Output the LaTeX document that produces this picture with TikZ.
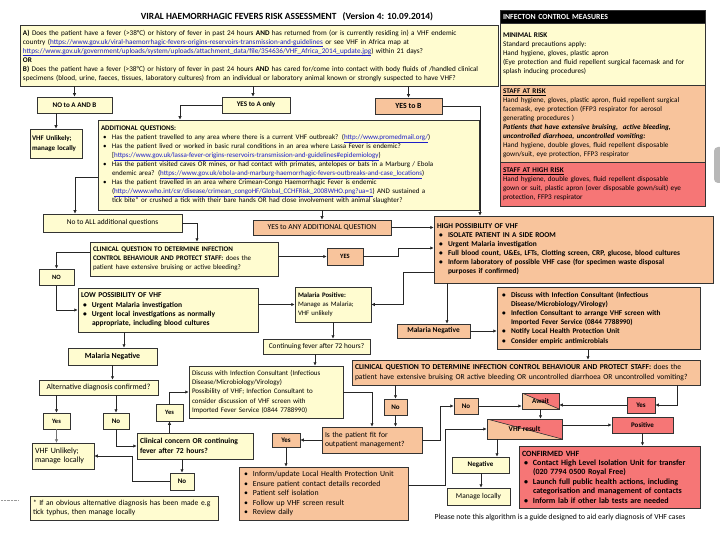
\documentclass[tikz,border=0pt]{standalone}
\usepackage{fontspec}
\setmainfont{Carlito}
\usepackage{tikz}
\usetikzlibrary{arrows.meta,calc}
\definecolor{vyel}{RGB}{255,252,208}
\definecolor{vpch}{RGB}{248,196,156}
\definecolor{vred}{RGB}{246,118,118}
\definecolor{lnkblue}{RGB}{30,30,200}
\newcommand{\fs}{\fontsize{6.5}{9}\selectfont}
\newcommand{\fsz}[2]{\fontsize{#1}{#2}\selectfont}
\newcommand{\lnk}[1]{\textcolor{lnkblue}{\underline{#1}}}
\newcommand{\bul}{\hspace*{2pt}\makebox[9pt][l]{\textbullet}}
\newcommand{\ind}{\hspace*{11pt}}
\tikzset{
  box/.style={draw=black!80,line width=0.5pt,inner xsep=3pt,inner ysep=1pt,font=\fs},
  ybox/.style={box,fill=vyel},
  obox/.style={box,fill=vpch},
  rbox/.style={box,fill=vred},
  sz/.style 2 args={minimum width=#1pt,minimum height=#2pt},
  tw/.style={text width=#1pt,align=left},
  flow/.style={-{Latex[length=3.5pt,width=3.5pt]},line width=0.7pt,black!85},
  split/.style={path picture={
    \fill[vred] (path picture bounding box.north west) -- (path picture bounding box.north east)
      -- (path picture bounding box.south east) -- cycle;
    \draw[line width=0.6pt] (path picture bounding box.north west) -- (path picture bounding box.south east);}},
}
\begin{document}
\begin{tikzpicture}[x=1pt,y=-1pt]
  \fill[white] (0,0) rectangle (720,540);
  \useasboundingbox (0,0) rectangle (720,540);

  % ---- title and entry question ----
  \node[font=\fsz{9.4}{11}\bfseries] (title) at (287,17)
    {VIRAL HAEMORRHAGIC FEVERS RISK ASSESSMENT\hspace{4pt} (Version 4: 10.09.2014)};
  \node[ybox,sz={478}{61},tw=472,font=\fsz{7.2}{9}] (abq) at (259,55.5) {%
    \textbf{A)} Does the patient have a fever (>38°C) or history of fever in past 24 hours \textbf{AND} has returned from (or is currently residing in) a VHF endemic\\
    country (\lnk{https://www.gov.uk/viral-haemorrhagic-fevers-origins-reservoirs-transmission-and-guidelines} or see VHF in Africa map at\\
    \lnk{https://www.gov.uk/government/uploads/system/uploads/attachment\_data/file/354636/VHF\_Africa\_2014\_update.jpg}) within 21 days?\\
    \textbf{OR}\\
    \textbf{B)} Does the patient have a fever (>38°C) or history of fever in past 24 hours \textbf{AND} has cared for/come into contact with body fluids of /handled clinical\\
    specimens (blood, urine, faeces, tissues, laboratory cultures) from an individual or laboratory animal known or strongly suspected to have VHF?};

  \node[ybox,sz={75}{16},font=\fsz{7.1}{9}\bfseries] (noab) at (74.5,105) {NO to A AND B};
  \node[ybox,sz={68}{16},font=\fsz{7.1}{9}\bfseries] (yesa) at (256,105) {YES to A only};
  \node[obox,sz={67}{16},font=\fsz{7.8}{9}\bfseries] (yesb) at (408.5,106) {YES to B};
  \node[ybox,sz={52}{29},inner xsep=2pt,tw=48,font=\fsz{7}{9.5}\bfseries] (vhfu1) at (56,143.5) {VHF Unlikely;\\manage locally};

  \node[ybox,sz={381}{90},tw=375,font=\fsz{7}{9}] (addq) at (288.5,165) {%
    \textbf{ADDITIONAL QUESTIONS:}\\
    \bul Has the patient travelled to any area where there is a current VHF outbreak? (\lnk{http://www.promedmail.org/})\\
    \bul Has the patient lived or worked in basic rural conditions in an area where Lassa Fever is endemic?\\
    \ind [\lnk{https://www.gov.uk/lassa-fever-origins-reservoirs-transmission-and-guidelines\#epidemiology})\\
    \bul Has the patient visited caves OR mines, or had contact with primates, antelopes or bats in a Marburg / Ebola\\
    \ind endemic area? (\lnk{https://www.gov.uk/ebola-and-marburg-haemorrhagic-fevers-outbreaks-and-case\_locations})\\
    \bul Has the patient travelled in an area where Crimean-Congo Haemorrhagic Fever is endemic\\
    \ind (\lnk{http://www.who.int/csr/disease/crimean\_congoHF/Global\_CCHFRisk\_2008WHO.png?ua=1}) AND sustained a\\
    \ind tick bite* or crushed a tick with their bare hands OR had close involvement with animal slaughter?};

  \node[ybox,sz={139}{18},font=\fsz{7.4}{9}] (noall) at (112.5,223) {No to ALL additional questions};
  \node[obox,sz={138}{15},font=\fsz{7.6}{9}] (yesany) at (322,227.5) {YES to ANY ADDITIONAL QUESTION};
  \node[ybox,sz={188}{34},tw=182,font=\fsz{7}{9}] (clinq1) at (184,259) {%
    \textbf{CLINICAL QUESTION TO DETERMINE INFECTION}\\
    \textbf{CONTROL BEHAVIOUR AND PROTECT STAFF:} does the\\
    patient have extensive bruising or active bleeding?};
  \node[ybox,sz={35}{16},font=\fs\bfseries] (no1) at (56.5,277) {NO};
  \node[obox,sz={36}{17},font=\fs\bfseries] (yes1) at (345,256.5) {YES};
  \node[obox,sz={279}{67},tw=273,font=\fsz{7.4}{9}\bfseries] (high) at (573.5,249.5) {%
    HIGH POSSIBILITY OF VHF\\
    \bul ISOLATE PATIENT IN A SIDE ROOM\\
    \bul Urgent Malaria investigation\\
    \bul Full blood count, U\&Es, LFTs, Clotting screen, CRP, glucose, blood cultures\\
    \bul Inform laboratory of possible VHF case (for specimen waste disposal\\
    \ind purposes if confirmed)};

  % ---- infection control panel ----
  \node[box,fill=black,text=white,sz={205}{13},tw=199,font=\fsz{7.8}{9}\bfseries] (icmh) at (602.5,16.5) {INFECTON CONTROL MEASURES};
  \node[ybox,sz={205}{62},tw=199,font=\fsz{7.2}{9}] (icmmin) at (602.5,54) {%
    \textbf{MINIMAL RISK}\\
    Standard precautions apply:\\
    Hand hygiene, gloves, plastic apron\\
    (Eye protection and fluid repellent surgical facemask and for\\
    splash inducing procedures)};
  \node[obox,sz={205}{77},tw=199,font=\fsz{7.2}{9}] (icmrisk) at (602.5,123.5) {%
    \underline{\textbf{STAFF AT RISK}}\\
    Hand hygiene, gloves, plastic apron, fluid repellent surgical\\
    facemask, eye protection (FFP3 respirator for aerosol\\
    generating procedures )\\
    \textbf{\textit{Patients that have extensive bruising,\ \ active bleeding,}}\\
    \textbf{\textit{uncontrolled diarrhoea, uncontrolled vomiting:}}\\
    Hand hygiene, double gloves, fluid repellent disposable\\
    gown/suit, eye protection, FFP3 respirator};
  \node[rbox,sz={205}{44},tw=199,font=\fsz{7.2}{9}] (icmhigh) at (602.5,184) {%
    \underline{\textbf{STAFF AT HIGH RISK}}\\
    Hand hygiene, double gloves, fluid repellent disposable\\
    gown or suit, plastic apron (over disposable gown/suit) eye\\
    protection, FFP3 respirator};
  \fill[black!28,rounded corners=4pt] (714,147) rectangle (726,183);

  % ---- malaria branches ----
  \node[ybox,sz={180}{44},tw=174,font=\fsz{7.5}{9.3}\bfseries] (lowp) at (168,310) {%
    LOW POSSIBILITY OF VHF\\
    \bul Urgent Malaria investigation\\
    \bul Urgent local investigations as normally\\
    \ind appropriate, including blood cultures};
  \node[ybox,sz={76}{35},tw=70,font=\fsz{6.8}{9}] (malpos) at (333,304.5) {\textbf{Malaria Positive:}\\Manage as Malaria;\\VHF unlikely};
  \node[ybox,sz={89}{17},font=\fsz{7.8}{9}\bfseries] (malneg1) at (112.5,356.5) {Malaria Negative};
  \node[obox,sz={73}{14},font=\fsz{7.4}{9}\bfseries] (malneg2) at (433.5,331) {Malaria Negative};
  \node[obox,sz={203}{62},tw=197,font=\fsz{7.3}{9.2}\bfseries] (disbul) at (598.5,318) {%
    \bul Discuss with Infection Consultant (Infectious\\
    \ind Disease/Microbiology/Virology)\\
    \bul Infection Consultant to arrange VHF screen with\\
    \ind Imported Fever Service (0844 7788990)\\
    \bul Notify Local Health Protection Unit\\
    \bul Consider empiric antimicrobials};
  \node[ybox,sz={107}{15},font=\fsz{7.3}{9}] (contf) at (316.5,346.5) {Continuing fever after 72 hours?};
  \node[ybox,sz={119}{15},font=\fsz{7.8}{9}] (altd) at (98.5,387.5) {Alternative diagnosis confirmed?};
  \node[ybox,sz={154}{52},tw=148,font=\fsz{7}{9.2}] (disc) at (266,392) {%
    Discuss with Infection Consultant (Infectious\\
    Disease/Microbiology/Virology)\\
    Possibility of VHF; Infection Consultant to\\
    consider discussion of VHF screen with\\
    Imported Fever Service (0844 7788990)};
  \node[obox,sz={348}{25},tw=342,font=\fsz{7.6}{9.5}] (clinq2) at (526,372.5) {%
    \textbf{CLINICAL QUESTION TO DETERMINE INFECTION CONTROL BEHAVIOUR AND PROTECT STAFF:} does the\\
    patient have extensive bruising OR active bleeding OR uncontrolled diarrhoea OR uncontrolled vomiting?};

  % ---- lower left ----
  \node[ybox,sz={27}{16},font=\fs\bfseries] (yes2) at (56.5,421) {Yes};
  \node[ybox,sz={26}{16},font=\fsz{7}{9}\bfseries] (no2) at (116,421) {No};
  \node[ybox,sz={62}{26},tw=56,font=\fsz{8}{9.5}] (vhfu2) at (63,456) {VHF Unlikely;\\manage locally};
  \node[ybox,sz={116}{26},tw=110,font=\fsz{7.6}{9.5}\bfseries] (clinc) at (195,446) {Clinical concern OR continuing\\fever after 72 hours?};
  \node[ybox,sz={27}{17},font=\fs\bfseries] (yes3) at (169.5,412.5) {Yes};
  \node[ybox,sz={24}{17},font=\fsz{7}{9}\bfseries] (no3) at (182,481.5) {No};
  \node[ybox,sz={188}{24},tw=182,font=\fsz{7.6}{9.5}] (foot) at (124,508) {%
    * If an obvious alternative diagnosis has been made e.g\\
    tick typhus, then manage locally};
  \draw[black!40,densely dotted] (1,500) -- (19,500);

  % ---- lower right ----
  \node[obox,sz={100}{26},tw=94,font=\fsz{7.6}{9.5}] (fit) at (372,440) {Is the patient fit for\\outpatient management?};
  \node[obox,sz={23}{16},font=\fsz{7}{9}\bfseries] (no4) at (395.5,407) {No};
  \node[obox,sz={24}{16},font=\fsz{7}{9}\bfseries] (no5) at (466,406) {No};
  \node[obox,split,sz={37}{16},font=\fsz{7}{9}\bfseries] (await) at (540.5,401) {Await};
  \node[rbox,sz={28}{16},font=\fsz{7}{9}\bfseries] (yes4) at (641,405) {Yes};
  \node[obox,split,sz={75}{20},font=\fsz{7.4}{9}\bfseries] (vhfres) at (524.5,429) {VHF result};
  \node[rbox,sz={61}{16},font=\fsz{7}{9}\bfseries] (pos) at (642.5,425) {Positive};
  \node[rbox,sz={181}{62},tw=175,font=\fsz{8}{9.4}\bfseries] (conf) at (609.5,477) {%
    CONFIRMED VHF\\
    \bul Contact High Level Isolation Unit for transfer\\
    \ind (020 7794 0500 Royal Free)\\
    \bul Launch full public health actions, including\\
    \ind categorisation and management of contacts\\
    \bul Inform lab if other lab tests are needed};
  \node[ybox,sz={57}{16},font=\fsz{7}{9}\bfseries] (neg) at (480.5,465) {Negative};
  \node[ybox,sz={63}{17},font=\fsz{7.4}{9}] (manage) at (478.5,496.5) {Manage locally};
  \node[obox,sz={28}{14},font=\fsz{7}{9}\bfseries] (yes5) at (286,440) {Yes};
  \node[obox,sz={169}{53},tw=163,font=\fsz{7.8}{9.5}] (outp) at (323.5,493.5) {%
    \bul Inform/update Local Health Protection Unit\\
    \bul Ensure patient contact details recorded\\
    \bul Patient self isolation\\
    \bul Follow up VHF screen result\\
    \bul Review daily};
  \node[font=\fsz{7.7}{9},anchor=west] (note) at (431,517)
    {Please note this algorithm is a guide designed to aid early diagnosis of VHF cases};

  % ---- connectors ----
  \draw[flow] (abq.south -| noab.north) -- (noab.north);
  \draw[flow] (abq.south -| 253,0) -- (253,0 |- yesa.north);
  \draw[flow] (abq.south -| yesb.north) -- (yesb.north);
  \draw[flow] (noab.south -| vhfu1.north) -- (vhfu1.north);
  \draw[flow] (yesa.west) -| (180,0 |- addq.north);
  \draw[flow] (yesb.east) -| (480,0 |- high.north);
  \draw[flow] (addq.west |- 0,177) -| (75,0 |- noall.north);
  \draw[flow] (addq.south -| yesany.north) -- (yesany.north);
  \draw[flow] (yesany.east) -- (yesany.east -| high.west);
  \draw[flow] (noall.east) -| (197,0 |- clinq1.north);
  \draw[flow] (clinq1.west |- 0,252) -| (no1.north);
  \draw[flow] (clinq1.east |- yes1.west) -- (yes1.west);
  \draw[flow] (yes1.east) -| (398,248) -- (high.west |- 0,248);
  \draw[flow] (no1.south) |- (lowp.west);
  \draw[flow] (lowp.east |- malpos.west) -- (malpos.west);
  \draw[flow] (high.west |- 0,272) -| (403,0 |- malpos.east) -- (malpos.east);
  \draw[flow] (high.south -| 447,0) -- (447,0 |- malneg2.north);
  \draw[flow] (malneg2.east) -- (malneg2.east -| disbul.west);
  \draw[flow] (disbul.south -| 588,0) -- (588,0 |- clinq2.north);
  \draw[flow] (lowp.south -| 124,0) -- (124,0 |- malneg1.north);
  \draw[flow] (malneg1.south) -- (malneg1.south |- altd.north);
  \draw[flow] (malpos.south) -- (malpos.south |- contf.north);
  \draw[flow] (contf.south -| 315,0) -- (315,0 |- disc.north);
  \draw[flow] (altd.south -| yes2.north) -- (yes2.north);
  \draw[flow] (altd.south -| no2.north) -- (no2.north);
  \draw[flow,black!55,line width=0.5pt] (yes2.south) -- (yes2.south |- vhfu2.north);
  \draw[flow] (no2.south) |- (clinc.west);
  \draw[flow] (clinc.south -| no3.north) -- (no3.north);
  \draw[flow] (no3.west) -| (132,0 |- vhfu2.east) -- (vhfu2.east);
  \draw[flow] (clinc.north -| yes3.south) -- (yes3.south);
  \draw[flow] (yes3.north) |- (disc.west);
  \draw[flow] (disc.east) -| (fit.north);
  \draw[flow] (clinq2.south -| no4.north) -- (no4.north);
  \draw[flow] (no4.south) -- (no4.south |- fit.north);
  \draw[flow] (fit.west) -- (fit.west -| yes5.east);
  \draw[flow] (yes5.south) -- (yes5.south |- outp.north);
  \draw[flow] (fit.east) -| (440,0 |- no5.west) -- (no5.west);
  \draw[flow] (no5.east) -- (no5.east -| await.west);
  \draw[flow] (clinq2.south -| 677,0) |- (yes4.east);
  \draw[flow] (yes4.west) -- (yes4.west -| await.east);
  \draw[flow] (await.south) -- (await.south |- vhfres.north);
  \draw[flow] (vhfres.east |- pos.west) -- (pos.west);
  \draw[flow] (pos.south) -- (pos.south |- conf.north);
  \draw[flow] (vhfres.south -| 497,0) -- (497,0 |- neg.north);
  \draw[flow] (neg.south -| 481,0) -- (481,0 |- manage.north);
  \draw[flow] (outp.east |- 0,485) -| (445,0 |- vhfres.west) -- (vhfres.west);
\end{tikzpicture}
\end{document}
